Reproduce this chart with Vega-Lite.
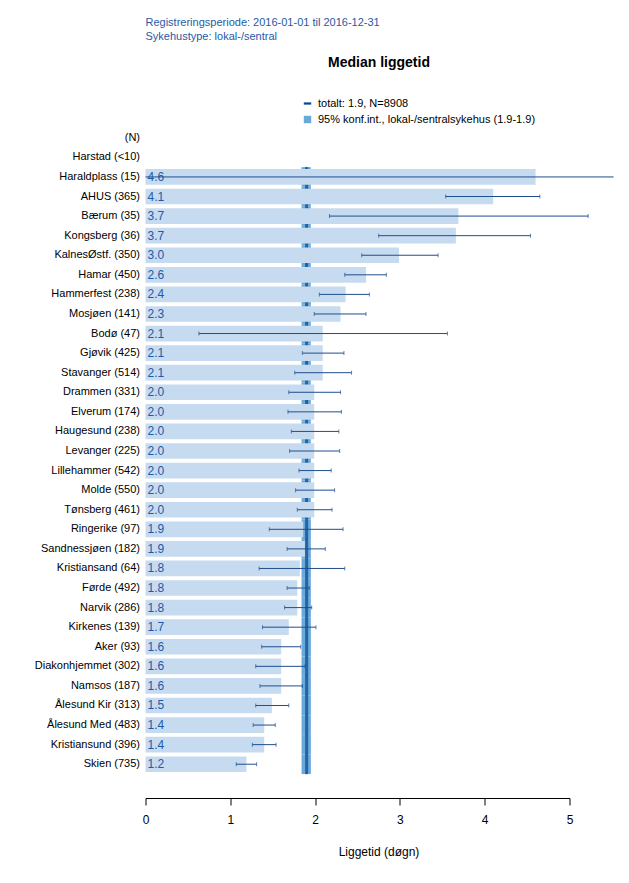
{
  "$schema": "https://vega.github.io/schema/vega-lite/v6.json",
  "width": 424,
  "height": 646,
  "autosize": {"type": "none"},
  "padding": {"left": 145.5, "top": 128, "right": 59.5, "bottom": 109},
  "background": "white",
  "config": {"font": "Liberation Sans", "view": {"stroke": null}, "axis": {"grid": false}},
  "title": {
    "text": ["Registreringsperiode: 2016-01-01 til 2016-12-31", "Sykehustype: lokal-/sentral"],
    "anchor": "start", "frame": "group", "color": "#1f5aa6", "fontSize": 11,
    "fontWeight": "normal", "lineHeight": 14.5, "offset": 13
  },
  "data": {"values": [
    {"sykehus": "Haraldplass (15)", "median": 4.60, "lo": 0.0, "hi": 5.52},
    {"sykehus": "AHUS (365)", "median": 4.10, "lo": 3.54, "hi": 4.65},
    {"sykehus": "Bærum (35)", "median": 3.69, "lo": 2.17, "hi": 5.22},
    {"sykehus": "Kongsberg (36)", "median": 3.66, "lo": 2.75, "hi": 4.54},
    {"sykehus": "KalnesØstf. (350)", "median": 2.99, "lo": 2.55, "hi": 3.45},
    {"sykehus": "Hamar (450)", "median": 2.60, "lo": 2.35, "hi": 2.84},
    {"sykehus": "Hammerfest (238)", "median": 2.36, "lo": 2.05, "hi": 2.64},
    {"sykehus": "Mosjøen (141)", "median": 2.30, "lo": 1.99, "hi": 2.60},
    {"sykehus": "Bodø (47)", "median": 2.09, "lo": 0.63, "hi": 3.56},
    {"sykehus": "Gjøvik (425)", "median": 2.09, "lo": 1.85, "hi": 2.34},
    {"sykehus": "Stavanger (514)", "median": 2.09, "lo": 1.76, "hi": 2.43},
    {"sykehus": "Drammen (331)", "median": 1.99, "lo": 1.69, "hi": 2.30},
    {"sykehus": "Elverum (174)", "median": 1.99, "lo": 1.68, "hi": 2.31},
    {"sykehus": "Haugesund (238)", "median": 1.99, "lo": 1.72, "hi": 2.28},
    {"sykehus": "Levanger (225)", "median": 1.99, "lo": 1.70, "hi": 2.29},
    {"sykehus": "Lillehammer (542)", "median": 1.99, "lo": 1.81, "hi": 2.19},
    {"sykehus": "Molde (550)", "median": 1.99, "lo": 1.77, "hi": 2.23},
    {"sykehus": "Tønsberg (461)", "median": 1.99, "lo": 1.79, "hi": 2.20},
    {"sykehus": "Ringerike (97)", "median": 1.86, "lo": 1.46, "hi": 2.33},
    {"sykehus": "Sandnessjøen (182)", "median": 1.88, "lo": 1.67, "hi": 2.12},
    {"sykehus": "Kristiansand (64)", "median": 1.82, "lo": 1.34, "hi": 2.35},
    {"sykehus": "Førde (492)", "median": 1.79, "lo": 1.67, "hi": 1.93},
    {"sykehus": "Narvik (286)", "median": 1.79, "lo": 1.64, "hi": 1.96},
    {"sykehus": "Kirkenes (139)", "median": 1.69, "lo": 1.38, "hi": 2.01},
    {"sykehus": "Aker (93)", "median": 1.60, "lo": 1.37, "hi": 1.83},
    {"sykehus": "Diakonhjemmet (302)", "median": 1.60, "lo": 1.30, "hi": 1.88},
    {"sykehus": "Namsos (187)", "median": 1.60, "lo": 1.35, "hi": 1.85},
    {"sykehus": "Ålesund Kir (313)", "median": 1.49, "lo": 1.30, "hi": 1.69},
    {"sykehus": "Ålesund Med (483)", "median": 1.40, "lo": 1.27, "hi": 1.53},
    {"sykehus": "Kristiansund (396)", "median": 1.40, "lo": 1.26, "hi": 1.54},
    {"sykehus": "Skien (735)", "median": 1.19, "lo": 1.07, "hi": 1.31}
  ]},
  "encoding": {
    "y": {
      "field": "sykehus", "type": "nominal", "sort": null,
      "scale": {
        "domain": ["(N)", "Harstad (<10)", "Haraldplass (15)", "AHUS (365)", "Bærum (35)", "Kongsberg (36)", "KalnesØstf. (350)", "Hamar (450)", "Hammerfest (238)", "Mosjøen (141)", "Bodø (47)", "Gjøvik (425)", "Stavanger (514)", "Drammen (331)", "Elverum (174)", "Haugesund (238)", "Levanger (225)", "Lillehammer (542)", "Molde (550)", "Tønsberg (461)", "Ringerike (97)", "Sandnessjøen (182)", "Kristiansand (64)", "Førde (492)", "Narvik (286)", "Kirkenes (139)", "Aker (93)", "Diakonhjemmet (302)", "Namsos (187)", "Ålesund Kir (313)", "Ålesund Med (483)", "Kristiansund (396)", "Skien (735)"],
        "paddingInner": 0, "paddingOuter": 0
      },
      "axis": {"title": null, "domain": false, "ticks": false, "labelPadding": 6, "labelFontSize": 11, "labelColor": "black", "labelLimit": 250}
    }
  },
  "layer": [
    {
      "mark": {"type": "rect"},
      "encoding": {
        "x": {"datum": 1.84, "type": "quantitative", "scale": {"domain": [0, 5]},
          "axis": {"orient": "top", "domain": false, "ticks": false, "labels": false, "title": "Median liggetid", "titleFontSize": 14, "titleFontWeight": "bold", "titleColor": "black", "titleX": 233, "titleY": -66, "titleBaseline": "middle"}},
        "x2": {"datum": 1.95},
        "color": {
          "datum": "95% konf.int., lokal-/sentralsykehus (1.9-1.9)",
          "scale": {"domain": ["totalt: 1.9, N=8908", "95% konf.int., lokal-/sentralsykehus (1.9-1.9)"], "range": ["#084594", "#6aaad8"]},
          "legend": {
            "orient": "none", "legendX": 156.5, "legendY": -30, "direction": "vertical", "title": null,
            "symbolSize": 55, "labelFontSize": 11, "labelColor": "black", "labelOffset": 5, "rowPadding": 4, "padding": 0, "labelLimit": 400,
            "encode": {"symbols": {"update": {
              "shape": {"signal": "datum.value === 'totalt: 1.9, N=8908' ? 'M-1,-0.3H1V0.3H-1Z' : 'square'"},
              "fill": {"scale": "color", "field": "value"},
              "strokeWidth": {"value": 0},
              "opacity": {"value": 1}
            }}}
          }
        }
      }
    },
    {
      "mark": {"type": "tick", "thickness": 3, "size": 20},
      "encoding": {
        "x": {"datum": 1.9, "type": "quantitative", "axis": null},
        "color": {"datum": "totalt: 1.9, N=8908"}
      }
    },
    {
      "mark": {"type": "bar", "color": "#c6dbef", "height": {"band": 0.8}},
      "encoding": {
        "x": {"field": "median", "type": "quantitative",
          "axis": {"orient": "bottom", "values": [0, 1, 2, 3, 4, 5], "offset": 24, "domainColor": "black", "tickColor": "black", "tickSize": 7, "labelFontSize": 12, "labelPadding": 9, "labelColor": "black", "labelFlush": false, "title": "Liggetid (døgn)", "titleFontSize": 12, "titleFontWeight": "normal", "titleColor": "black", "titleX": 233, "titleY": 53, "titleBaseline": "middle"}}
      }
    },
    {
      "mark": {"type": "text", "align": "left", "baseline": "middle", "dx": 2, "fontSize": 12, "color": "#1f5aa6"},
      "encoding": {
        "x": {"datum": 0, "type": "quantitative", "axis": null},
        "text": {"field": "median", "format": ".1f"}
      }
    },
    {
      "mark": {"type": "rule", "color": "#1f4e8c", "strokeWidth": 1},
      "encoding": {
        "x": {"field": "lo", "type": "quantitative", "axis": null},
        "x2": {"field": "hi"}
      }
    },
    {
      "transform": [{"filter": "datum.lo > 0"}],
      "mark": {"type": "tick", "color": "#1f4e8c", "thickness": 1, "size": 4},
      "encoding": {"x": {"field": "lo", "type": "quantitative", "axis": null}}
    },
    {
      "transform": [{"filter": "datum.hi < 5.5"}],
      "mark": {"type": "tick", "color": "#1f4e8c", "thickness": 1, "size": 4},
      "encoding": {"x": {"field": "hi", "type": "quantitative", "axis": null}}
    }
  ],
  "resolve": {"axis": {"x": "independent"}}
}
